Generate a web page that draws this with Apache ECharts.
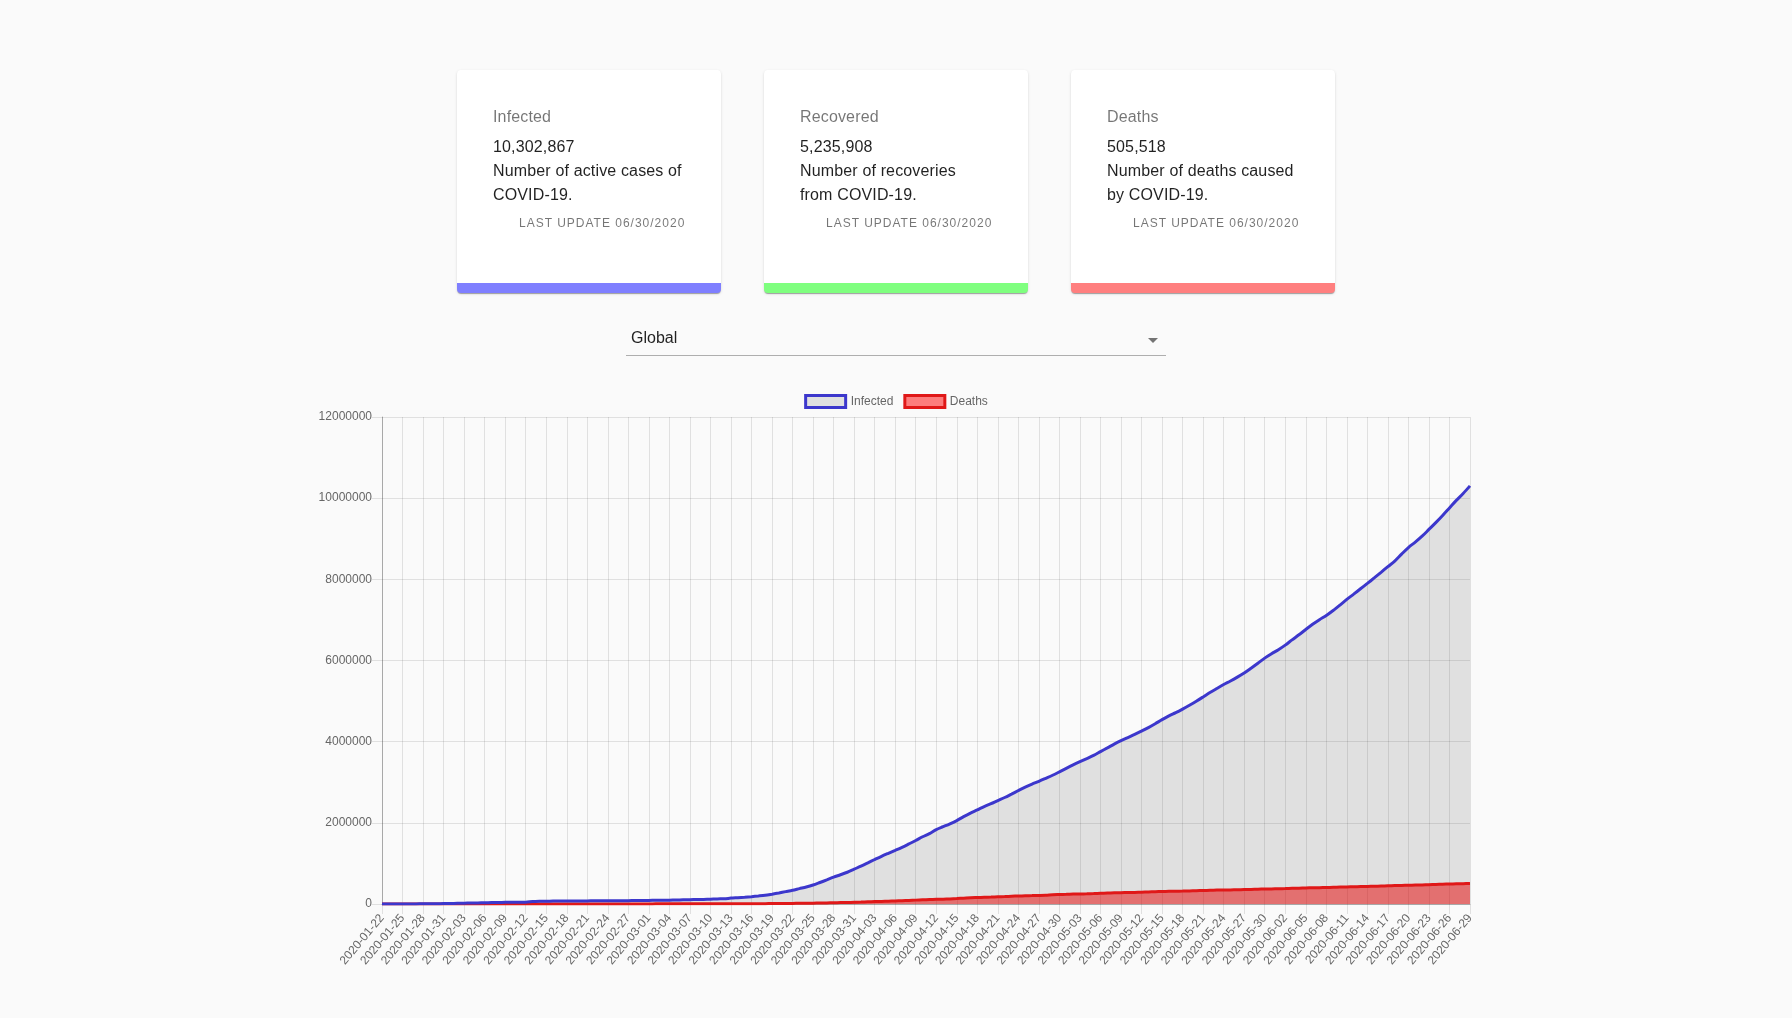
<!DOCTYPE html>
<html>
<head>
<meta charset="utf-8">
<script src="https://cdn.jsdelivr.net/npm/echarts@6/dist/echarts.min.js"></script>
<style>
html,body{margin:0;padding:0;background:#fafafa;width:1792px;height:1018px;overflow:hidden;font-family:"Liberation Sans",Arial,Helvetica,sans-serif;}
#chart{position:absolute;left:0;top:0;width:1792px;height:1018px;z-index:0;}
.card{position:absolute;top:70px;width:264px;height:213px;background:#fff;border-radius:4px;box-sizing:content-box;
 box-shadow:0px 2px 1px -1px rgba(0,0,0,0.2),0px 1px 1px 0px rgba(0,0,0,0.14),0px 1px 3px 0px rgba(0,0,0,0.12);z-index:1;}
.card .t{position:absolute;left:36px;font-size:16px;line-height:24px;letter-spacing:0.15px;white-space:nowrap;color:rgba(0,0,0,0.87);}
.card .title{top:35px;color:rgba(0,0,0,0.54);}
.card .num{top:65px;}
.card .d1{top:89px;}
.card .d2{top:113px;}
.card .upd{position:absolute;top:145px;left:62px;font-size:12px;line-height:16px;letter-spacing:1px;text-transform:uppercase;color:rgba(0,0,0,0.54);white-space:nowrap;}
.sel{position:absolute;left:631px;top:326px;font-size:16px;line-height:24px;color:rgba(0,0,0,0.87);z-index:1;}
.uline{position:absolute;left:626px;top:355px;width:540px;height:1px;background:rgba(0,0,0,0.3);z-index:1;}
.arrow{position:absolute;left:1148px;top:338px;width:0;height:0;border-left:5px solid transparent;border-right:5px solid transparent;border-top:5px solid rgba(0,0,0,0.54);z-index:1;}
</style>
</head>
<body>
<div id="chart"></div>

<div class="card" style="left:457px;border-bottom:10px solid rgba(0,0,255,0.5);">
  <div class="t title">Infected</div>
  <div class="t num">10,302,867</div>
  <div class="t d1">Number of active cases of</div>
  <div class="t d2">COVID-19.</div>
  <div class="upd">Last Update 06/30/2020</div>
</div>
<div class="card" style="left:764px;border-bottom:10px solid rgba(0,255,0,0.5);">
  <div class="t title">Recovered</div>
  <div class="t num">5,235,908</div>
  <div class="t d1">Number of recoveries</div>
  <div class="t d2">from COVID-19.</div>
  <div class="upd">Last Update 06/30/2020</div>
</div>
<div class="card" style="left:1071px;border-bottom:10px solid rgba(255,0,0,0.5);">
  <div class="t title">Deaths</div>
  <div class="t num">505,518</div>
  <div class="t d1">Number of deaths caused</div>
  <div class="t d2">by COVID-19.</div>
  <div class="upd">Last Update 06/30/2020</div>
</div>

<div class="sel">Global</div>
<div class="uline"></div>
<div class="arrow"></div>

<script>
const categories = [
'2020-01-22','2020-01-23','2020-01-24','2020-01-25','2020-01-26','2020-01-27','2020-01-28','2020-01-29','2020-01-30','2020-01-31',
'2020-02-01','2020-02-02','2020-02-03','2020-02-04','2020-02-05','2020-02-06','2020-02-07','2020-02-08','2020-02-09','2020-02-10',
'2020-02-11','2020-02-12','2020-02-13','2020-02-14','2020-02-15','2020-02-16','2020-02-17','2020-02-18','2020-02-19','2020-02-20',
'2020-02-21','2020-02-22','2020-02-23','2020-02-24','2020-02-25','2020-02-26','2020-02-27','2020-02-28','2020-02-29',
'2020-03-01','2020-03-02','2020-03-03','2020-03-04','2020-03-05','2020-03-06','2020-03-07','2020-03-08','2020-03-09','2020-03-10',
'2020-03-11','2020-03-12','2020-03-13','2020-03-14','2020-03-15','2020-03-16','2020-03-17','2020-03-18','2020-03-19','2020-03-20',
'2020-03-21','2020-03-22','2020-03-23','2020-03-24','2020-03-25','2020-03-26','2020-03-27','2020-03-28','2020-03-29','2020-03-30','2020-03-31',
'2020-04-01','2020-04-02','2020-04-03','2020-04-04','2020-04-05','2020-04-06','2020-04-07','2020-04-08','2020-04-09','2020-04-10',
'2020-04-11','2020-04-12','2020-04-13','2020-04-14','2020-04-15','2020-04-16','2020-04-17','2020-04-18','2020-04-19','2020-04-20',
'2020-04-21','2020-04-22','2020-04-23','2020-04-24','2020-04-25','2020-04-26','2020-04-27','2020-04-28','2020-04-29','2020-04-30',
'2020-05-01','2020-05-02','2020-05-03','2020-05-04','2020-05-05','2020-05-06','2020-05-07','2020-05-08','2020-05-09','2020-05-10',
'2020-05-11','2020-05-12','2020-05-13','2020-05-14','2020-05-15','2020-05-16','2020-05-17','2020-05-18','2020-05-19','2020-05-20',
'2020-05-21','2020-05-22','2020-05-23','2020-05-24','2020-05-25','2020-05-26','2020-05-27','2020-05-28','2020-05-29','2020-05-30','2020-05-31',
'2020-06-01','2020-06-02','2020-06-03','2020-06-04','2020-06-05','2020-06-06','2020-06-07','2020-06-08','2020-06-09','2020-06-10',
'2020-06-11','2020-06-12','2020-06-13','2020-06-14','2020-06-15','2020-06-16','2020-06-17','2020-06-18','2020-06-19','2020-06-20',
'2020-06-21','2020-06-22','2020-06-23','2020-06-24','2020-06-25','2020-06-26','2020-06-27','2020-06-28','2020-06-29'
];

const infectedJan = [555,654,941,1434,2118,2927,5578,6166,8234,9927];
const infectedFeb = [12038,16787,19881,23892,27635,30794,34391,37120,40150,42762,44802,45221,60368,66885,69030,71224,73258,75136,75639,76197,76819,78572,78958,79561,80406,81388,82746,84112,86011];
const infectedMar = [88369,90306,92840,95120,97886,101801,105847,109821,113590,118620,125875,128352,145205,156101,167454,181574,197102,214821,242570,272208,304507,336953,378235,418045,467653,529591,593291,660706,720117,782365,857487];
const infectedApr = [932605,1013466,1095917,1176060,1249754,1321481,1396476,1479804,1565278,1657526,1735650,1834721,1904838,1976191,2056054,2152437,2240190,2317758,2401378,2472259,2549123,2624101,2708885,2795729,2881140,2955033,3023722,3097229,3172287,3256846];
const infectedMay = [3343777,3427584,3506729,3583055,3662691,3755341,3845718,3938064,4024009,4101699,4177502,4261747,4347018,4442163,4542347,4634068,4713620,4801943,4897492,4996472,5102424,5210817,5310362,5407613,5495061,5589626,5691790,5808946,5930595,6059017,6166946];
const infectedJun = [6265852,6378237,6508635,6632985,6764918,6891678,7005881,7110134,7232338,7366186,7505051,7633966,7767000,7899000,8034000,8173000,8313000,8449000,8620000,8784000,8917000,9063000,9230000,9398000,9575000,9760000,9945000,10115000,10302867];

const deathsJan = [17,18,26,42,56,82,131,133,171,213];
const deathsFeb = [259,362,426,492,564,634,719,806,906,1013,1113,1118,1371,1523,1666,1770,1868,2007,2122,2247,2251,2458,2469,2629,2708,2770,2814,2872,2941];
const deathsMar = [2996,3085,3160,3254,3348,3460,3558,3802,3988,4262,4615,4720,5404,5819,6440,7126,7905,8733,9867,11299,12973,14623,16497,18615,21181,23970,27198,30652,33925,37582,42107];
const deathsApr = [46809,52983,58787,64606,69374,74565,81865,88338,95455,102525,108503,114091,119482,125984,134176,143800,153822,159509,165043,169985,176583,183068,190858,197159,202846,206544,211167,217153,227638,233388];
const deathsMay = [238650,243808,247470,251537,257239,263855,269567,274898,279311,282709,286330,291942,297197,302418,307666,311781,315185,318481,323285,328115,332924,338160,342097,345059,346232,350453,355629,360308,364867,369126,372035];
const deathsJun = [375543,380249,385947,391136,396140,400140,403000,406540,411300,416200,421100,425400,429700,433000,436900,443700,448900,454000,458600,462800,466600,470600,475700,481100,487700,493000,497200,500400,505518];

const yTicks = {min: 0, max: 12000000, interval: 2000000};

const infected = [].concat(infectedJan, infectedFeb, infectedMar, infectedApr, infectedMay, infectedJun);
const deaths = [].concat(deathsJan, deathsFeb, deathsMar, deathsApr, deathsMay, deathsJun);

const BLUE = '#3c37cc';
const RED = '#e01818';
const FONT = '"Liberation Sans", Arial, Helvetica, sans-serif';

const chart = echarts.init(document.getElementById('chart'), null, {renderer: 'canvas'});
chart.setOption({
  animation: false,
  backgroundColor: 'transparent',
  textStyle: {fontFamily: FONT},
  legend: {
    left: 'center', top: 389, itemWidth: 40, itemHeight: 12, itemGap: 10, selectedMode: false,
    textStyle: {color: '#666', fontSize: 12, fontFamily: FONT},
    data: [
      {name: 'Infected', icon: 'rect', itemStyle: {color: 'rgba(0,0,0,0.1)', borderColor: BLUE, borderWidth: 3}},
      {name: 'Deaths', icon: 'rect', itemStyle: {color: 'rgba(255,0,0,0.5)', borderColor: RED, borderWidth: 3}}
    ]
  },
  grid: {left: 382, right: 322, top: 417, bottom: 114, containLabel: false, outerBoundsMode: 'none'},
  xAxis: {
    type: 'category', data: categories, boundaryGap: false,
    axisLine: {show: true, lineStyle: {color: 'rgba(0,0,0,0.25)', width: 1}},
    axisTick: {show: true, interval: 2, length: 10, lineStyle: {color: 'rgba(0,0,0,0.1)'}},
    axisLabel: {interval: 2, rotate: 50, margin: 12, color: '#666', fontSize: 12, fontFamily: FONT},
    splitLine: {show: true, interval: 2, lineStyle: {color: 'rgba(0,0,0,0.1)', width: 1}}
  },
  yAxis: {
    type: 'value', min: yTicks.min, max: yTicks.max, interval: yTicks.interval,
    axisLine: {show: true, lineStyle: {color: 'rgba(0,0,0,0.25)', width: 1}},
    axisTick: {show: true, length: 10, lineStyle: {color: 'rgba(0,0,0,0.1)'}},
    axisLabel: {margin: 10, color: '#666', fontSize: 12, fontFamily: FONT, formatter: v => String(v)},
    splitLine: {show: true, lineStyle: {color: 'rgba(0,0,0,0.1)', width: 1}}
  },
  series: [
    {name: 'Deaths', type: 'line', data: deaths, smooth: 0.3, showSymbol: false, symbol: 'none',
     lineStyle: {color: RED, width: 3}, itemStyle: {color: RED},
     areaStyle: {color: 'rgba(255,0,0,0.5)', origin: 'start', opacity: 1}},
    {name: 'Infected', type: 'line', data: infected, smooth: 0.3, showSymbol: false, symbol: 'none',
     lineStyle: {color: BLUE, width: 3}, itemStyle: {color: BLUE},
     areaStyle: {color: 'rgba(0,0,0,0.1)', origin: 'start', opacity: 1}}
  ]
});
</script>
</body>
</html>
